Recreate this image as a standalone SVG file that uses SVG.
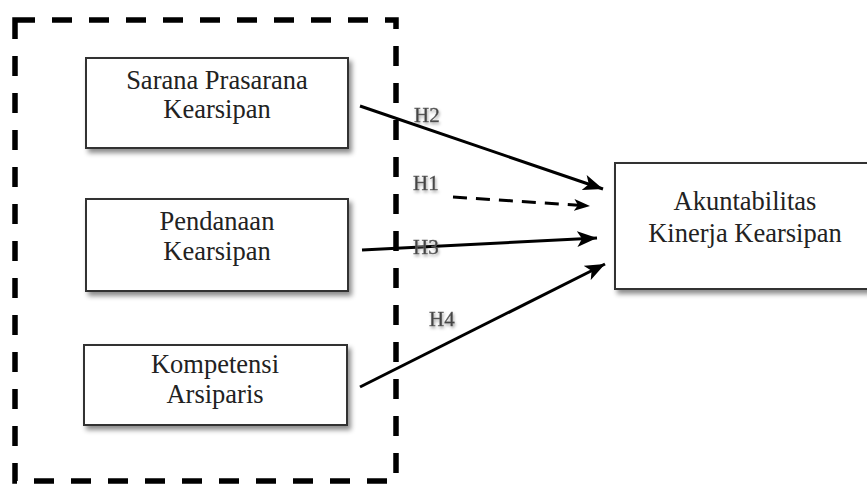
<svg xmlns="http://www.w3.org/2000/svg" width="867" height="484" viewBox="0 0 867 484">
<style>
.box{fill:#fff;stroke:#333;stroke-width:2;filter:url(#sh)}
.t{font-family:"Liberation Serif","Times New Roman",serif;font-size:26.5px;fill:#222;text-anchor:middle}
.lbl{font-family:"Liberation Serif","Times New Roman",serif;font-size:21px;fill:#444;stroke:#666;stroke-width:0.4;filter:url(#lsh)}
.c{stroke:#000;stroke-width:3;fill:none}
</style>
<defs>
<filter id="sh" x="-10%" y="-10%" width="130%" height="140%">
<feDropShadow dx="3" dy="4" stdDeviation="2.5" flood-color="#000" flood-opacity="0.45"/>
</filter>
<filter id="lsh" x="-30%" y="-30%" width="160%" height="160%">
<feDropShadow dx="1" dy="2" stdDeviation="1.5" flood-color="#000" flood-opacity="0.35"/>
</filter>
<marker id="ah" markerUnits="userSpaceOnUse" markerWidth="22" markerHeight="16" refX="20" refY="8" orient="auto">
<path d="M0,0 L20,8 L0,16 L5,8 z" fill="#000"/>
</marker>
<marker id="ahs" markerUnits="userSpaceOnUse" markerWidth="18" markerHeight="12" refX="16" refY="6" orient="auto">
<path d="M0,0 L16,6 L0,12 L4,6 z" fill="#000"/>
</marker>
</defs>
<rect width="867" height="484" fill="#fff"/>
<g id="frame">
<rect x="15" y="20" width="381" height="461" fill="none" stroke="#000" stroke-width="5.5" stroke-dasharray="20 17"/>
</g>
<g id="sarana">
<rect class="box" x="86" y="58" width="262" height="90"/>
<text class="t" x="217" y="89">Sarana Prasarana</text>
<text class="t" x="217" y="118">Kearsipan</text>
</g>
<g id="pendanaan">
<rect class="box" x="86" y="199" width="262" height="92"/>
<text class="t" x="217" y="230">Pendanaan</text>
<text class="t" x="217" y="260">Kearsipan</text>
</g>
<g id="kompetensi">
<rect class="box" x="84" y="345" width="263" height="80"/>
<text class="t" x="215" y="373">Kompetensi</text>
<text class="t" x="215" y="403">Arsiparis</text>
</g>
<g id="akuntabilitas">
<rect class="box" x="615" y="163" width="270" height="126"/>
<text class="t" x="745" y="210">Akuntabilitas</text>
<text class="t" x="745" y="242">Kinerja Kearsipan</text>
</g>
<g id="connectors">
<line class="c" x1="360" y1="106" x2="603" y2="189" marker-end="url(#ah)"/>
<line class="c" x1="453" y1="197" x2="590" y2="206" stroke-dasharray="14 9" marker-end="url(#ahs)"/>
<line class="c" x1="362" y1="250" x2="597" y2="238" marker-end="url(#ah)"/>
<line class="c" x1="360" y1="387" x2="605" y2="264" marker-end="url(#ah)"/>
<text class="lbl" x="414" y="122">H2</text>
<text class="lbl" x="413" y="190">H1</text>
<text class="lbl" x="413" y="254">H3</text>
<text class="lbl" x="429" y="326">H4</text>
</g>
</svg>
